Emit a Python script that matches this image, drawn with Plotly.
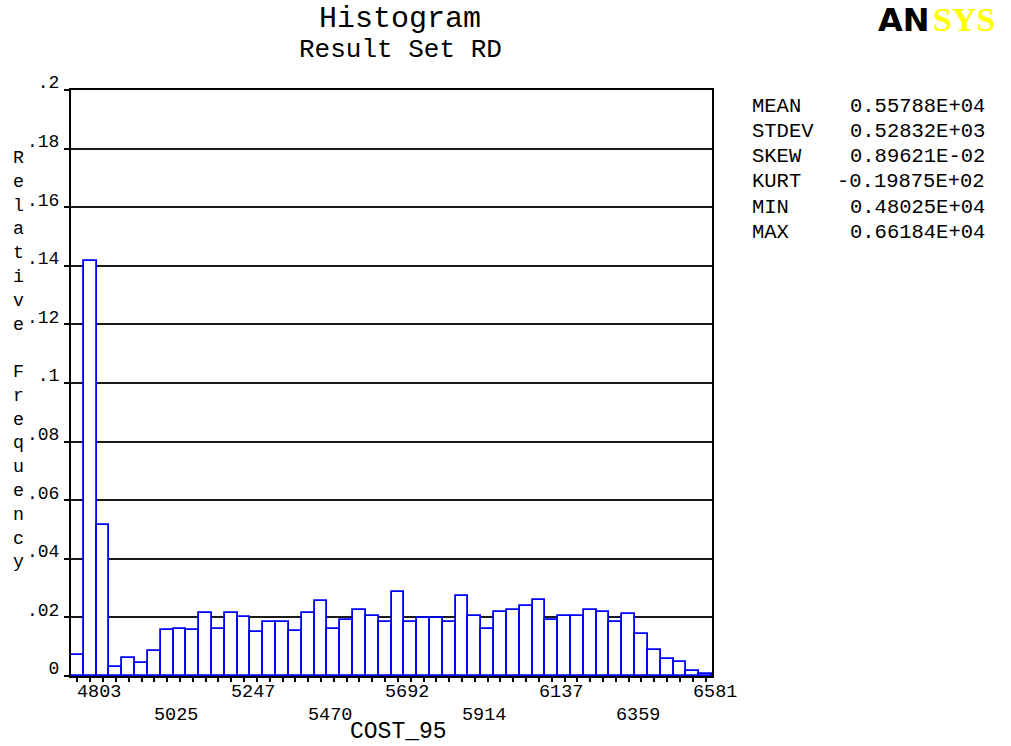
import plotly.graph_objects as go

# ---- data ---------------------------------------------------------------
var_name = "COST_95"
result_set = "Result Set RD"

stat_names = ["MEAN", "STDEV", "SKEW", "KURT", "MIN", "MAX"]
stat_texts = ["0.55788E+04", "0.52832E+03", "0.89621E-02",
              "-0.19875E+02", "0.48025E+04", "0.66184E+04"]
x_min = 4802.5
x_max = 6618.4

# relative frequency of each of the 50 classes, lowest class first
rel_freq = [
    0.0071, 0.1415, 0.0517, 0.0031, 0.0061, 0.0046, 0.0085, 0.0156, 0.0162, 0.0156,
    0.0216, 0.0162, 0.0215, 0.0203, 0.0150, 0.0185, 0.0185, 0.0154, 0.0215, 0.0255,
    0.0160, 0.0190, 0.0225, 0.0206, 0.0185, 0.0287, 0.0185, 0.0199, 0.0197, 0.0185,
    0.0272, 0.0206, 0.0160, 0.0220, 0.0225, 0.0240, 0.0261, 0.0190, 0.0206, 0.0206,
    0.0225, 0.0220, 0.0185, 0.0212, 0.0145, 0.0088, 0.0058, 0.0047, 0.0017, 0.0006,
]

# labelled classes (index into the class list) and their labels
x_label_bins = [0, 6, 12, 18, 24, 30, 36, 42, 48]
x_label_text = ["4803", "5025", "5247", "5470", "5692", "5914", "6137", "6359", "6581"]

y_tick_vals = [0, 0.02, 0.04, 0.06, 0.08, 0.10, 0.12, 0.14, 0.16, 0.18, 0.20]
y_tick_text = ["0", ".02", ".04", ".06", ".08", ".1", ".12", ".14", ".16", ".18", ".2"]

y_title = "Relative Frequency"

# ---- class geometry: classes are centred from MIN to MAX ---------------
n_bins = len(rel_freq)
bin_w = (x_max - x_min) / (n_bins - 1)
centers = [x_min + i * bin_w for i in range(n_bins)]

# ---- page layout (pixels) ----------------------------------------------
W, H = 1011, 746
PL, PR, PT, PB = 71, 712, 90, 676   # plot frame

def px(x):
    return (x - PL) / (PR - PL)

def py(y):
    return (PB - y) / (PB - PT)

MONO = "Liberation Mono, Courier New, monospace"

fig = go.Figure()
fig.add_trace(go.Bar(
    x=centers, y=rel_freq, width=bin_w,
    marker=dict(color="white", line=dict(color="#0000ff", width=1.8)),
    hoverinfo="x+y",
))

ann = []
# staggered class labels, left-aligned on their tick
for j, (b, t) in enumerate(zip(x_label_bins, x_label_text)):
    ann.append(dict(x=centers[b], y=py(692 if j % 2 == 0 else 715.5),
                    xref="x", yref="paper", text=t, showarrow=False,
                    xanchor="left", yanchor="middle", xshift=-2,
                    font=dict(family=MONO, size=18.5, color="black")))
# x-axis title
ann.append(dict(x=px(398), y=py(732), xref="paper", yref="paper", text=var_name,
                showarrow=False, xanchor="center", yanchor="middle",
                font=dict(family=MONO, size=23, color="black")))
# vertical y-axis title, one letter per line
ann.append(dict(x=px(18), y=py(360), xref="paper", yref="paper",
                text="<br>".join(c if c != " " else "\u00a0" for c in y_title),
                showarrow=False, xanchor="center", yanchor="middle",
                font=dict(family=MONO, size=18.3, color="black")))
# titles
ann.append(dict(x=px(400), y=py(19), xref="paper", yref="paper", text="Histogram",
                showarrow=False, xanchor="center", yanchor="middle", borderpad=0,
                font=dict(family=MONO, size=30, color="black")))
ann.append(dict(x=px(400), y=py(50), xref="paper", yref="paper", text=result_set,
                showarrow=False, xanchor="center", yanchor="middle", borderpad=0,
                font=dict(family=MONO, size=26, color="black")))
# statistics block
row_y = [106.5, 132, 156.5, 181.5, 207, 232.5]
for name, val, yy in zip(stat_names, stat_texts, row_y):
    ann.append(dict(x=px(750), y=py(yy), xref="paper", yref="paper", text=name,
                    showarrow=False, xanchor="left", yanchor="middle",
                    font=dict(family=MONO, size=20.5, color="black")))
    ann.append(dict(x=px(987), y=py(yy), xref="paper", yref="paper", text=val,
                    showarrow=False, xanchor="right", yanchor="middle",
                    font=dict(family=MONO, size=20.5, color="black")))
# logo, hung from the top edge of the page
ann.append(dict(x=px(931), y=py(0), xref="paper", yref="paper", text="<b>AN</b>",
                showarrow=False, xanchor="right", yanchor="top", borderpad=0,
                font=dict(family="DejaVu Sans", size=32, color="black")))
ann.append(dict(x=px(932), y=py(0), xref="paper", yref="paper", text="<b>SYS</b>",
                showarrow=False, xanchor="left", yanchor="top", borderpad=0,
                font=dict(family="Liberation Serif", size=34, color="#ffff00")))

fig.update_layout(
    width=W, height=H,
    margin=dict(l=PL, r=W - PR, t=PT, b=H - PB, pad=0),
    paper_bgcolor="white", plot_bgcolor="white",
    bargap=0, showlegend=False,
    annotations=ann,
    xaxis=dict(
        range=[x_min - bin_w / 2, x_max + bin_w / 2],
        tickmode="array", tickvals=centers, showticklabels=False,
        ticks="outside", ticklen=4, tickwidth=1.5, tickcolor="black",
        showgrid=False, zeroline=False,
        showline=True, linecolor="black", linewidth=2, mirror=True,
    ),
    yaxis=dict(
        range=[0, 0.2],
        tickmode="array", tickvals=y_tick_vals, ticktext=y_tick_text,
        ticks="outside", ticklen=5, tickwidth=1.5, tickcolor="black",
        ticklabelshift=-8, ticklabelstandoff=1,
        tickfont=dict(family=MONO, size=18, color="black"),
        showgrid=True, gridcolor="#1a1a1a", gridwidth=1.6,
        zeroline=False,
        showline=True, linecolor="black", linewidth=2, mirror=True,
    ),
)

fig.write_html("out.html")
